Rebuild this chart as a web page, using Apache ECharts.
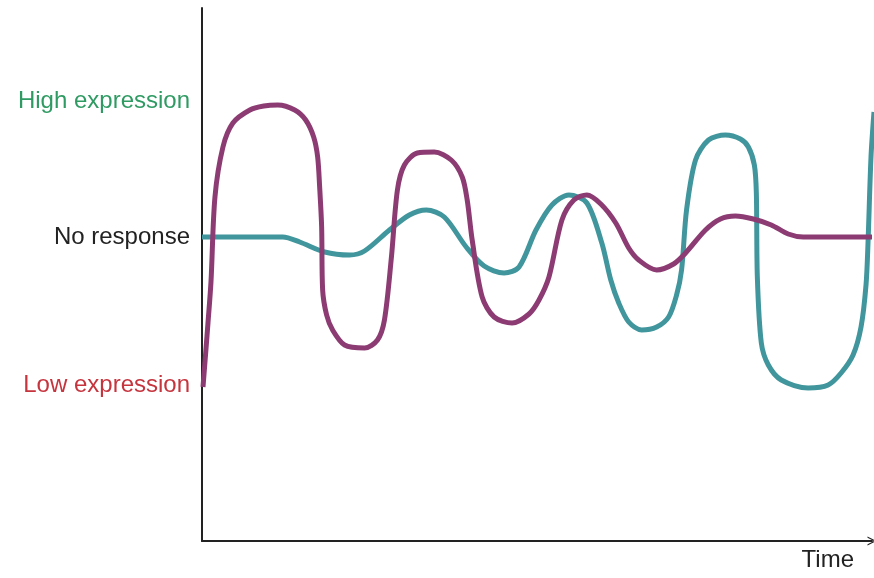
<!DOCTYPE html>
<html>
<head>
<meta charset="utf-8">
<title>Expression over time</title>
<script src="https://cdn.jsdelivr.net/npm/echarts@6/dist/echarts.min.js"></script>
<style>
    html, body { margin: 0; padding: 0; background: #fff; }
    #chart { width: 874px; height: 578px; }
</style>
</head>
<body>
<div id="chart"></div>
<script>
    // levels on the y axis (offset from "no response")
    var levelValues = [136, 0, -148];
    var levelNames = ['High expression', 'No response', 'Low expression'];
    var levelColors = ['#2f9b63', '#222222', '#c6343e'];

    // [time, level]
    var purpleData = [
        [1, -150], [4, -112], [6, -86], [9, -45], [13, 40], [21, 90], [31, 114], [48, 127], [62, 131], [76, 132],
        [93, 127], [104, 117], [112, 100], [116, 80], [118, 50], [120, 10], [121, -53], [125, -78], [131, -93],
        [143, -108], [163, -111], [176, -103], [183, -83], [190, -20], [196, 47], [203, 72], [216, 84],
        [233, 85], [250, 77], [261, 60], [266, 37], [271, -3], [281, -60], [293, -80], [311, -86],
        [328, -77], [338, -63], [348, -40], [361, 17], [373, 37], [386, 42], [400, 33], [415, 14],
        [428, -11], [438, -23], [456, -33], [473, -27], [485, -16], [505, 7], [520, 18], [535, 21],
        [553, 18], [571, 12], [588, 3], [603, 0], [672, 0]
    ];
    var tealData = [
        [0, 0], [81, 0], [98, -5], [123, -15], [148, -18], [163, -14], [188, 7], [208, 22],
        [225, 27], [243, 20], [265, -10], [283, -29], [303, -36], [318, -30], [335, 7], [351, 32],
        [368, 42], [386, 34], [401, -6], [410, -43], [418, -66], [428, -85], [441, -93], [456, -90],
        [468, -80], [476, -58], [481, -33], [486, 27], [495, 77], [508, 97], [525, 102], [540, 98],
        [548, 90], [554, 72], [556, 44], [557, -40], [561, -106], [568, -128], [581, -143], [608, -151],
        [628, -148], [641, -136], [653, -118], [661, -90], [666, -48], [668, -6], [671, 80], [674, 125]
    ];

    var chart = echarts.init(document.getElementById('chart'));

    var option = {
        animation: false,
        textStyle: {
            fontFamily: 'Liberation Sans, Arial, sans-serif'
        },
        grid: {
            left: 202,
            right: 2,
            top: 8,
            bottom: 37
        },
        xAxis: {
            type: 'value',
            min: 0,
            max: 672,
            name: 'Time',
            nameLocation: 'end',
            nameGap: -18,
            nameTextStyle: {
                fontSize: 24,
                color: '#222',
                align: 'right',
                verticalAlign: 'top',
                padding: [7, 0, 0, 0]
            },
            axisLine: {
                onZero: false,
                symbol: ['none', 'path://M0,20 L10,0 L20,20 L17,20 L10,5 L3,20 Z'],
                symbolSize: [14, 9],
                lineStyle: { color: '#222', width: 2 }
            },
            axisTick: { show: false },
            axisLabel: { show: false },
            splitLine: { show: false }
        },
        yAxis: {
            type: 'value',
            min: -304,
            max: 229,
            axisLine: {
                show: true,
                lineStyle: { color: '#222', width: 2 }
            },
            axisTick: { show: false },
            splitLine: { show: false },
            axisLabel: {
                customValues: levelValues,
                margin: 12,
                fontSize: 24,
                formatter: function (v) {
                    return levelNames[levelValues.indexOf(v)];
                },
                color: function (v) {
                    return levelColors[levelValues.indexOf(Number(v))];
                }
            }
        },
        series: [
            {
                name: 'teal',
                type: 'line',
                data: tealData,
                smooth: 0.3,
                showSymbol: false,
                clip: true,
                lineStyle: { color: '#40969c', width: 5 }
            },
            {
                name: 'purple',
                type: 'line',
                data: purpleData,
                smooth: 0.3,
                showSymbol: false,
                clip: true,
                lineStyle: { color: '#8c3c72', width: 5 }
            }
        ]
    };

    chart.setOption(option);
</script>
</body>
</html>
